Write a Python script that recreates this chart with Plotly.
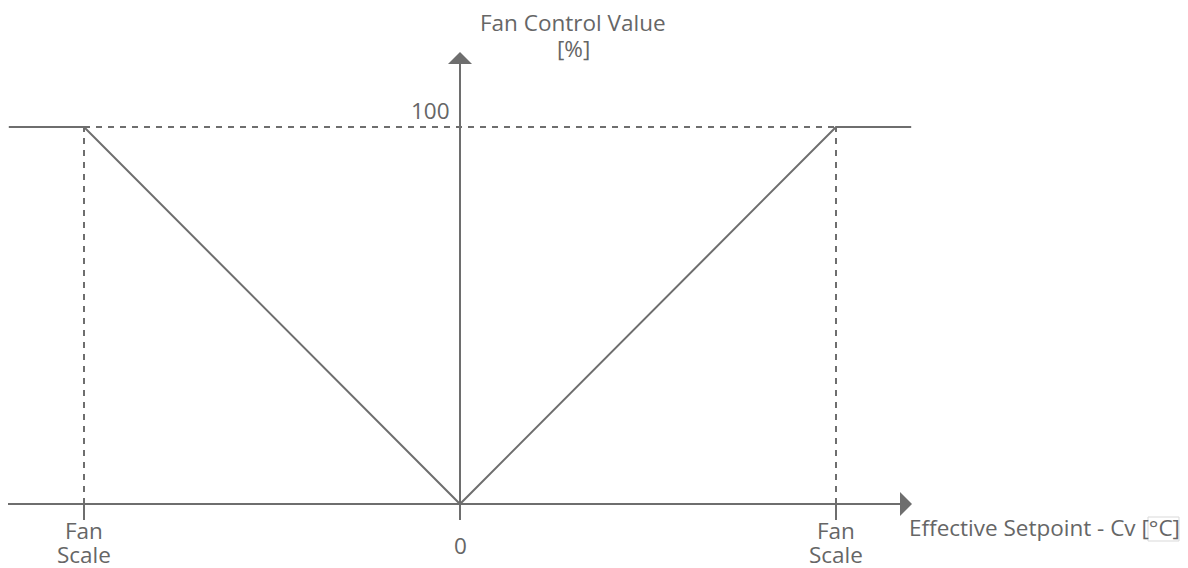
import plotly.graph_objects as go

# Control characteristic: fan output vs. (effective setpoint - Cv)
fan_scale = [-1.0, 1.0]            # positions of the "Fan Scale" limits
curve_x = [-1.2, -1.0, 0.0, 1.0, 1.2]
curve_y = [100, 100, 0, 100, 100]
y_max_label = 100
x_tick_labels = [["Fan", "Scale"], ["0"], ["Fan", "Scale"]]
x_tick_pos = [-1.0, 0.0, 1.0]
y_title_lines = ["Fan Control Value", "[%]"]
x_title = "Effective Setpoint - Cv [°C]"

LINE = "#6e6e6e"
TEXT = "#666666"
FONT = "Open Sans"

W, H = 1188, 568
PX_X = 376.0     # px per fan scale unit
PX_Y = 3.77      # px per percent
X0, Y0 = 460, 504

def dx(px):
    return (px - X0) / PX_X

def dy(py):
    return (Y0 - py) / PX_Y

x_range = [dx(0), dx(W)]
y_range = [dy(H), dy(0)]

fig = go.Figure()

# dashed guide lines at 100 % and at the fan scale limits
fig.add_trace(go.Scatter(
    x=[fan_scale[0], fan_scale[1]], y=[y_max_label, y_max_label],
    mode="lines", line=dict(color=LINE, width=2, dash="6px,6px"),
    hoverinfo="skip", showlegend=False))
for fs in fan_scale:
    fig.add_trace(go.Scatter(
        x=[fs, fs], y=[0, y_max_label],
        mode="lines", line=dict(color=LINE, width=2, dash="6px,6px"),
        hoverinfo="skip", showlegend=False))

# axes
x_end = dx(912)
y_end = dy(52)
fig.add_trace(go.Scatter(x=[dx(8), x_end - 0.03], y=[0, 0], mode="lines",
                         line=dict(color=LINE, width=2), hoverinfo="skip", showlegend=False))
fig.add_trace(go.Scatter(x=[0, 0], y=[dy(520), y_end - 3], mode="lines",
                         line=dict(color=LINE, width=2), hoverinfo="skip", showlegend=False))
# tick marks below the x axis
for tx in x_tick_pos:
    fig.add_trace(go.Scatter(x=[tx, tx], y=[0, dy(520)], mode="lines",
                             line=dict(color=LINE, width=2), hoverinfo="skip", showlegend=False))

# characteristic curve
fig.add_trace(go.Scatter(x=curve_x, y=curve_y, mode="lines",
                         line=dict(color=LINE, width=2), hoverinfo="skip", showlegend=False))

# arrow heads
fig.add_annotation(x=x_end, y=0, ax=x_end - 0.06, ay=0, xref="x", yref="y",
                   axref="x", ayref="y", showarrow=True, arrowhead=1,
                   arrowsize=2.0, arrowwidth=2, arrowcolor=LINE, text="")
fig.add_annotation(x=0, y=y_end, ax=0, ay=y_end - 6, xref="x", yref="y",
                   axref="x", ayref="y", showarrow=True, arrowhead=1,
                   arrowsize=2.0, arrowwidth=2, arrowcolor=LINE, text="")

font = dict(family=FONT, size=22.5, color=TEXT)

# y axis title (two lines)
for i, line in enumerate(y_title_lines):
    fig.add_annotation(x=dx(573), y=dy(22 + 26 * i), text=line,
                       showarrow=False, font=font)
fig.add_annotation(x=dx(452), y=dy(110), text=str(y_max_label),
                   showarrow=False, font=font, xanchor="right")
# x tick labels
for tx, lines in zip(x_tick_pos, x_tick_labels):
    if len(lines) == 1:
        fig.add_annotation(x=tx, y=dy(545), text=lines[0], showarrow=False, font=font)
    else:
        for i, line in enumerate(lines):
            fig.add_annotation(x=tx, y=dy(530 + 24 * i), text=line,
                               showarrow=False, font=font)
fig.add_annotation(x=dx(907), y=dy(527), text=x_title, showarrow=False,
                   font=font, xanchor="left")
# faint box around the unit
fig.add_shape(type="rect", x0=dx(1148), x1=dx(1179), y0=dy(541), y1=dy(517),
              line=dict(color="#d9d9d9", width=1))

fig.update_xaxes(range=x_range, visible=False, fixedrange=True)
fig.update_yaxes(range=y_range, visible=False, fixedrange=True)
fig.update_layout(width=W, height=H, margin=dict(l=0, r=0, t=0, b=0),
                  plot_bgcolor="white", paper_bgcolor="white")

fig.write_html("out.html")
